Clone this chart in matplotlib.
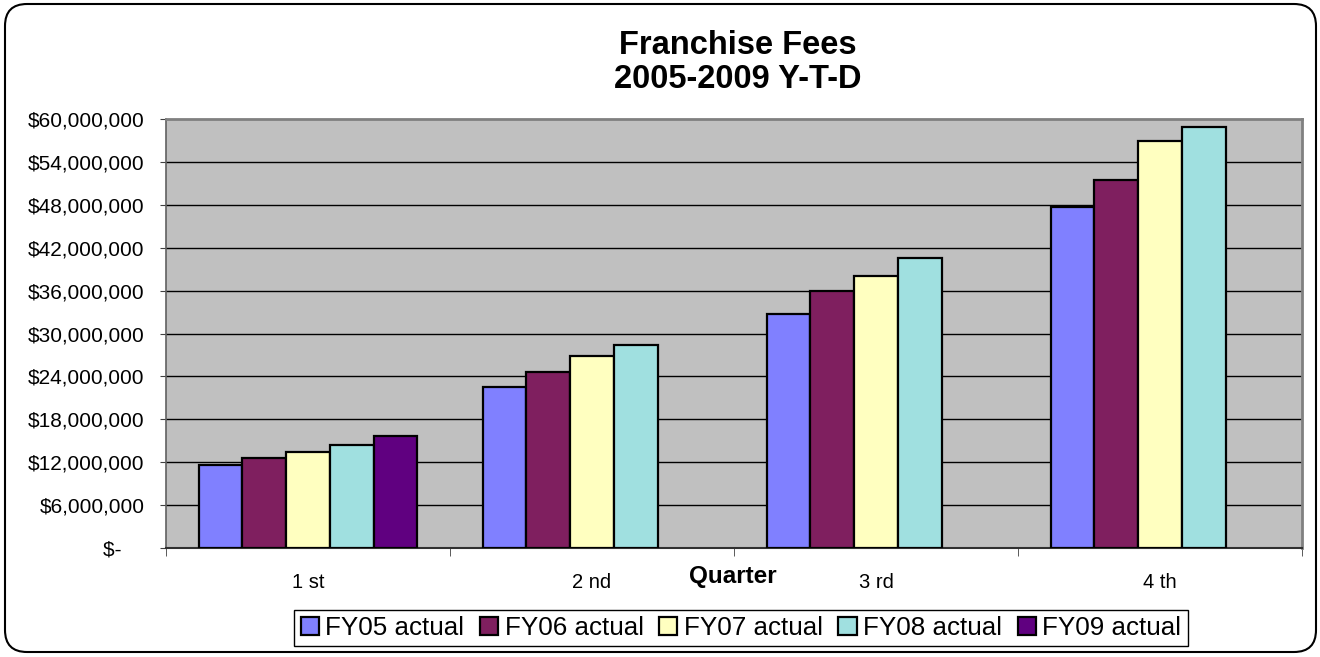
import numpy as np
import matplotlib
matplotlib.use('Agg')
import matplotlib.pyplot as plt
from matplotlib.patches import FancyBboxPatch
from matplotlib.transforms import IdentityTransform
from matplotlib.ticker import FuncFormatter, FixedLocator

# data (cumulative franchise fees, dollars)
quarters = ['1 st', '2 nd', '3 rd', '4 th']
series_names = ['FY05 actual', 'FY06 actual', 'FY07 actual', 'FY08 actual', 'FY09 actual']
fy05 = [11.6e6, 22.5e6, 32.7e6, 47.7e6]
fy06 = [12.6e6, 24.6e6, 36.0e6, 51.5e6]
fy07 = [13.4e6, 26.8e6, 38.1e6, 56.9e6]
fy08 = [14.45e6, 28.35e6, 40.5e6, 58.9e6]
fy09 = [15.6e6, np.nan, np.nan, np.nan]
colors = ['#8080FF', '#7F1F5F', '#FFFFC0', '#A0E0E0', '#600080']

plt.rcParams['font.family'] = ['Liberation Sans', 'DejaVu Sans']

fig = plt.figure(figsize=(13.2, 6.57), dpi=100)
ax = fig.add_axes([166/1320, 1-548/657, (1302-166)/1320, (548-119)/657])
ax.set_facecolor('#C0C0C0')

x = np.arange(len(quarters))
w = 1/6.5
all_series = [fy05, fy06, fy07, fy08, fy09]
for i, (vals, name, c) in enumerate(zip(all_series, series_names, colors)):
    ax.bar(x + (i-2)*w, vals, width=w, color=c, edgecolor='black', linewidth=1.6,
           label=name, zorder=3)

ax.set_xlim(-0.5, 3.5)
ax.set_ylim(0, 60e6)
ax.set_yticks(np.arange(0, 60e6+1, 6e6))

def money(v, pos):
    if v == 0:
        return '$-    '
    return '${:,.0f}'.format(v)

ax.yaxis.set_major_formatter(FuncFormatter(money))
ax.tick_params(axis='y', labelsize=15, length=4.5, pad=11, color='#404040')
for yv in np.arange(6e6, 60e6, 6e6):
    ax.axhline(yv, color='black', linewidth=1, zorder=1)

ax.set_xticks(x)
ax.set_xticklabels(quarters)
ax.tick_params(axis='x', which='major', length=0, labelsize=14.5, pad=18)
ax.xaxis.set_minor_locator(FixedLocator(np.arange(-0.5, 4, 1)))
ax.tick_params(axis='x', which='minor', length=6, direction='out', color='#404040')

ax.set_xlabel('Quarter', fontsize=17.5, fontweight='bold')
ax.xaxis.set_label_coords((733-166)/(1302-166), -(576-548)/429)
ax.xaxis.label.set_va('center')

for s in ['top', 'right']:
    ax.spines[s].set_color('#808080')
    ax.spines[s].set_linewidth(2)
ax.spines['left'].set_color('#606060')
ax.spines['left'].set_linewidth(1.2)
ax.spines['bottom'].set_color('#303030')
ax.spines['bottom'].set_linewidth(1.5)

fig.text(738/1320, 1-45/657, 'Franchise Fees', ha='center', va='center',
         fontsize=23.5, fontweight='bold')
fig.text(738/1320, 1-79/657, '2005-2009 Y-T-D', ha='center', va='center',
         fontsize=23.5, fontweight='bold')

leg = fig.legend(loc='center', bbox_to_anchor=(741/1320, 1-628/657), ncol=5,
                 fontsize=18.7, handlelength=0.7, handleheight=0.7,
                 handletextpad=0.25, columnspacing=0.6, borderpad=0.25,
                 fancybox=False, edgecolor='black', framealpha=1)
leg.get_frame().set_linewidth(1)

border = FancyBboxPatch((5, 5), 1311, 648, boxstyle='round,pad=0,rounding_size=22',
                        transform=IdentityTransform(), facecolor='none',
                        edgecolor='black', linewidth=1.5)
fig.patches.append(border)

fig.savefig('out.png', dpi=100)
